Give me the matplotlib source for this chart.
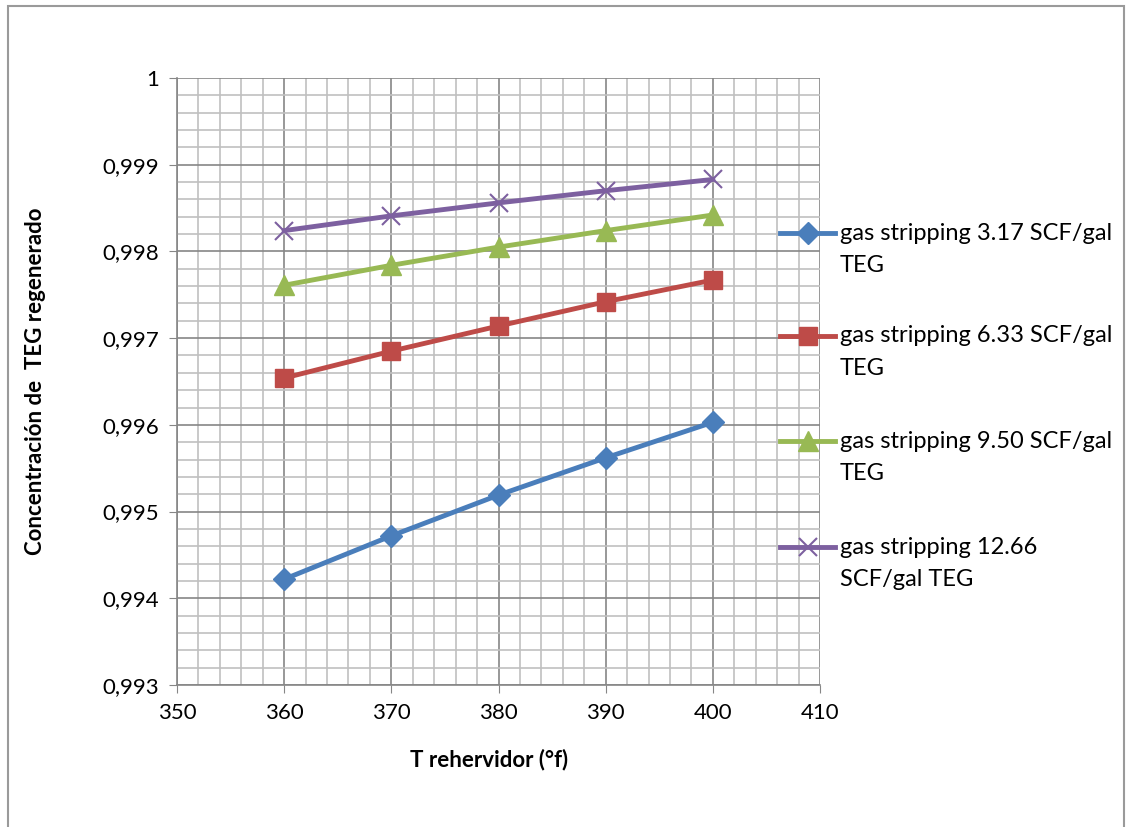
import numpy as np
import matplotlib.pyplot as plt
from matplotlib.ticker import MultipleLocator, FuncFormatter
from matplotlib.patches import Rectangle

plt.rcParams['font.family'] = ['Lato', 'DejaVu Sans']

t_reb = [360, 370, 380, 390, 400]
conc_317 = [0.99422, 0.99472, 0.99519, 0.99562, 0.99603]
conc_633 = [0.99654, 0.99685, 0.99714, 0.99742, 0.99767]
conc_950 = [0.99761, 0.99784, 0.99805, 0.99824, 0.99842]
conc_1266 = [0.99824, 0.99841, 0.99856, 0.99870, 0.99883]
labels = [['gas stripping 3.17 SCF/gal', 'TEG'],
          ['gas stripping 6.33 SCF/gal', 'TEG'],
          ['gas stripping 9.50 SCF/gal', 'TEG'],
          ['gas stripping 12.66', 'SCF/gal TEG']]

W, H = 1126, 827
fig = plt.figure(figsize=(W / 100, H / 100), dpi=100)
ax = fig.add_axes([177/W, 1 - 685/H, (820-177)/W, (685-78)/H])

# outer chart border
fig.patches.append(Rectangle((8/W, -0.05), (1124-8)/W, 1.05 - 6/H,
                             transform=fig.transFigure, fill=False,
                             edgecolor='#9a9a9a', linewidth=1.5))

styles = [
    ('#4A7EBB', 'D', 11),
    ('#BE4B48', 's', 13),
    ('#98B954', '^', 14),
    ('#7D60A0', 'x', 13),
]
series = [conc_317, conc_633, conc_950, conc_1266]
for y, (c, m, ms) in zip(series, styles):
    mew = 1.5 if m == 'x' else 1
    ax.plot(t_reb, y, color=c, lw=3.5, marker=m, ms=ms, mew=mew)

ax.set_xlim(350, 410)
ax.set_ylim(0.993, 1.0)
ax.xaxis.set_major_locator(MultipleLocator(10))
ax.xaxis.set_minor_locator(MultipleLocator(2))
ax.yaxis.set_major_locator(MultipleLocator(0.001))
ax.yaxis.set_minor_locator(MultipleLocator(0.0002))

def fmt(v, pos):
    s = ('%.3f' % v).rstrip('0').rstrip('.')
    return s.replace('.', ',')
ax.yaxis.set_major_formatter(FuncFormatter(fmt))

ax.grid(which='major', color='#868686', lw=1.2)
ax.grid(which='minor', color='#c0c0c0', lw=1.2)
ax.set_axisbelow(True)
for s in ['top', 'right']:
    ax.spines[s].set_visible(False)
for s in ['left', 'bottom']:
    ax.spines[s].set_color('#868686')
    ax.spines[s].set_linewidth(1.2)
ax.tick_params(which='major', length=6, color='#868686', labelsize=16, pad=7)
ax.tick_params(which='minor', length=0)

fig.text(489/W, 1 - 760/H, 'T rehervidor (°f)', fontsize=16, fontweight='bold',
         ha='center', va='center')
fig.text(36/W, 1 - 381/H, 'Concentración de  TEG regenerado', fontsize=16,
         fontweight='bold', rotation=90, ha='center', va='center')

# legend, drawn by hand so the key sits on the first text line
leg_y = [233, 336, 441, 547]
for yy, lab, (c, m, ms) in zip(leg_y, labels, styles):
    yf = 1 - yy / H
    mew = 1.5 if m == 'x' else 1
    fig.add_artist(plt.Line2D([780/W, 835/W], [yf, yf], color=c, lw=3.5,
                              transform=fig.transFigure))
    fig.add_artist(plt.Line2D([808/W], [yf], color=c, marker=m, ms=ms, mew=mew,
                              transform=fig.transFigure))
    for k, line in enumerate(lab):
        fig.text(840/W, yf - k * 33 / H, line, fontsize=17, ha='left', va='center')

fig.savefig('out.png', dpi=100)
